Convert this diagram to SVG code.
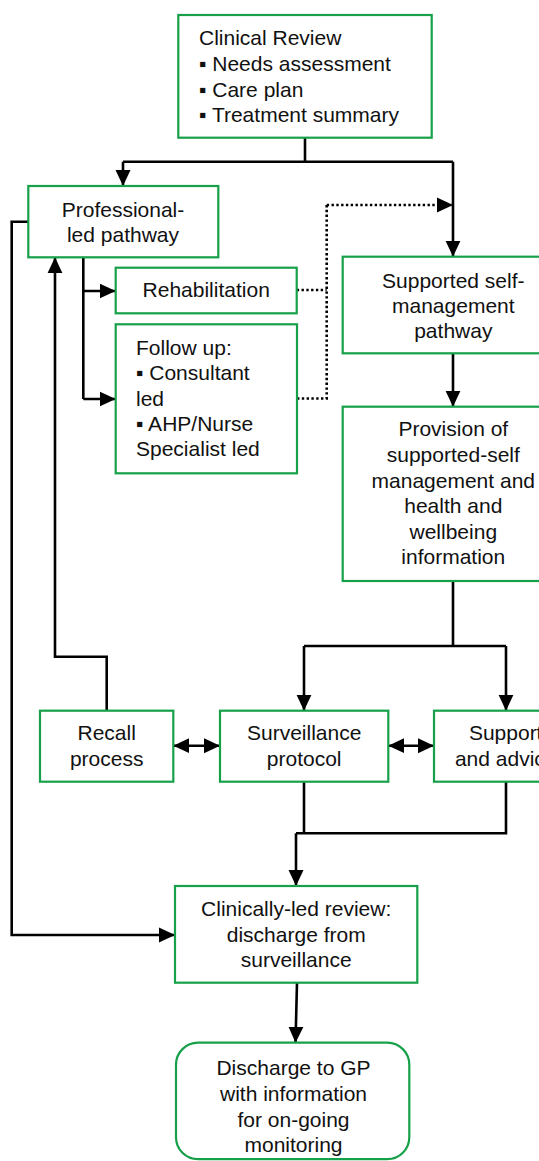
<svg xmlns="http://www.w3.org/2000/svg" width="539" height="1161" viewBox="0 0 539 1161">
<style>
.box{fill:#fff;stroke:#17a04a;stroke-width:2.2}
.t{font-family:"Liberation Sans",Arial,sans-serif;font-size:21px;fill:#111}
.c{text-anchor:middle}
.ln{fill:none;stroke:#000;stroke-width:2.6}
.dot{fill:none;stroke:#000;stroke-width:2.6;stroke-dasharray:2.4 2.4}
</style>
<defs>
<marker id="ah" markerUnits="userSpaceOnUse" markerWidth="16" markerHeight="16" viewBox="0 0 16 16" refX="16" refY="8" orient="auto-start-reverse">
<path d="M0,0.5 L16,8 L0,15.5 Z" fill="#000"/>
</marker>
</defs>
<rect width="539" height="1161" fill="#fff"/>
<g id="connectors">
<path class="ln" d="M305,137.7 V161.7 M123,161.7 H453"/>
<path class="ln" d="M123,161.7 V186" marker-end="url(#ah)"/>
<path class="ln" d="M453,161.7 V256.7" marker-end="url(#ah)"/>
<path class="ln" d="M453,353.3 V406.7" marker-end="url(#ah)"/>
<path class="ln" d="M83.3,257.3 V399"/>
<path class="ln" d="M83.3,291 H115.7" marker-end="url(#ah)"/>
<path class="ln" d="M83.3,399 H115.7" marker-end="url(#ah)"/>
<path class="dot" d="M296.7,290 H326.7 M297,398.5 H326.7 V205"/>
<path class="dot" d="M326.7,205 H453" marker-end="url(#ah)"/>
<path class="ln" d="M28.3,221.7 H11.7 V935 H175" marker-end="url(#ah)"/>
<path class="ln" d="M106.7,710.7 V656.7 H55 V257.3" marker-end="url(#ah)"/>
<path class="ln" d="M453,581 V646 M304,646 H506"/>
<path class="ln" d="M304,646 V710.7" marker-end="url(#ah)"/>
<path class="ln" d="M506,646 V710.7" marker-end="url(#ah)"/>
<path class="ln" d="M173.3,745.7 H220" marker-start="url(#ah)" marker-end="url(#ah)"/>
<path class="ln" d="M388.3,745.7 H434" marker-start="url(#ah)" marker-end="url(#ah)"/>
<path class="ln" d="M304,781.7 V833.3 M506,781.7 V833.3 H296"/>
<path class="ln" d="M296,833.3 V886" marker-end="url(#ah)"/>
<path class="ln" d="M297,982.7 L295.5,1042.7" marker-end="url(#ah)"/>
</g>
<g id="clinical-review">
<rect class="box" x="178.3" y="15" width="253.4" height="122.7"/>
<text class="t" x="199"><tspan x="199" y="45">Clinical Review</tspan><tspan x="199" y="71">▪ Needs assessment</tspan><tspan x="199" y="96.7">▪ Care plan</tspan><tspan x="199" y="121.7">▪ Treatment summary</tspan></text>
</g>
<g id="professional-led">
<rect class="box" x="28.3" y="186" width="190" height="71.3"/>
<text class="t c"><tspan x="123" y="216.7">Professional-</tspan><tspan x="123" y="242">led pathway</tspan></text>
</g>
<g id="rehabilitation">
<rect class="box" x="115.7" y="267.7" width="181" height="45.6"/>
<text class="t c" x="206.2" y="297.3">Rehabilitation</text>
</g>
<g id="follow-up">
<rect class="box" x="115.7" y="324.3" width="181.3" height="149"/>
<text class="t"><tspan x="136" y="355">Follow up:</tspan><tspan x="136" y="380.3">▪ Consultant</tspan><tspan x="136" y="405.5">led</tspan><tspan x="136" y="430.8">▪ AHP/Nurse</tspan><tspan x="136" y="456.3">Specialist led</tspan></text>
</g>
<g id="supported-self-management">
<rect class="box" x="342.7" y="256.7" width="221" height="96.6"/>
<text class="t c"><tspan x="453.3" y="288.3">Supported self-</tspan><tspan x="453.3" y="313.3">management</tspan><tspan x="453.3" y="338.3">pathway</tspan></text>
</g>
<g id="provision">
<rect class="box" x="342.7" y="406.7" width="221" height="174.3"/>
<text class="t c"><tspan x="453.3" y="436">Provision of</tspan><tspan x="453.3" y="462.2">supported-self</tspan><tspan x="453.3" y="487.7">management and</tspan><tspan x="453.3" y="513.2">health and</tspan><tspan x="453.3" y="538.5">wellbeing</tspan><tspan x="453.3" y="564">information</tspan></text>
</g>
<g id="recall">
<rect class="box" x="40" y="710.7" width="133.3" height="71"/>
<text class="t c"><tspan x="106.7" y="740">Recall</tspan><tspan x="106.7" y="765.7">process</tspan></text>
</g>
<g id="surveillance">
<rect class="box" x="220" y="710.7" width="168.3" height="71"/>
<text class="t c"><tspan x="304.2" y="740">Surveillance</tspan><tspan x="304.2" y="765.7">protocol</tspan></text>
</g>
<g id="support-advice">
<rect class="box" x="434" y="710.7" width="143.4" height="71"/>
<text class="t c"><tspan x="505.7" y="740">Support</tspan><tspan x="505.7" y="765.7">and advice</tspan></text>
</g>
<g id="clinically-led-review">
<rect class="box" x="175" y="886" width="242.3" height="96.7"/>
<text class="t c"><tspan x="296.2" y="916">Clinically-led review:</tspan><tspan x="296.2" y="941.7">discharge from</tspan><tspan x="296.2" y="966.7">surveillance</tspan></text>
</g>
<g id="discharge-gp">
<rect class="box" x="176" y="1042.7" width="233.3" height="116.5" rx="22" ry="22"/>
<text class="t c"><tspan x="293.5" y="1075">Discharge to GP</tspan><tspan x="293.5" y="1100.7">with information</tspan><tspan x="293.5" y="1126.5">for on-going</tspan><tspan x="293.5" y="1151.7">monitoring</tspan></text>
</g>
</svg>
